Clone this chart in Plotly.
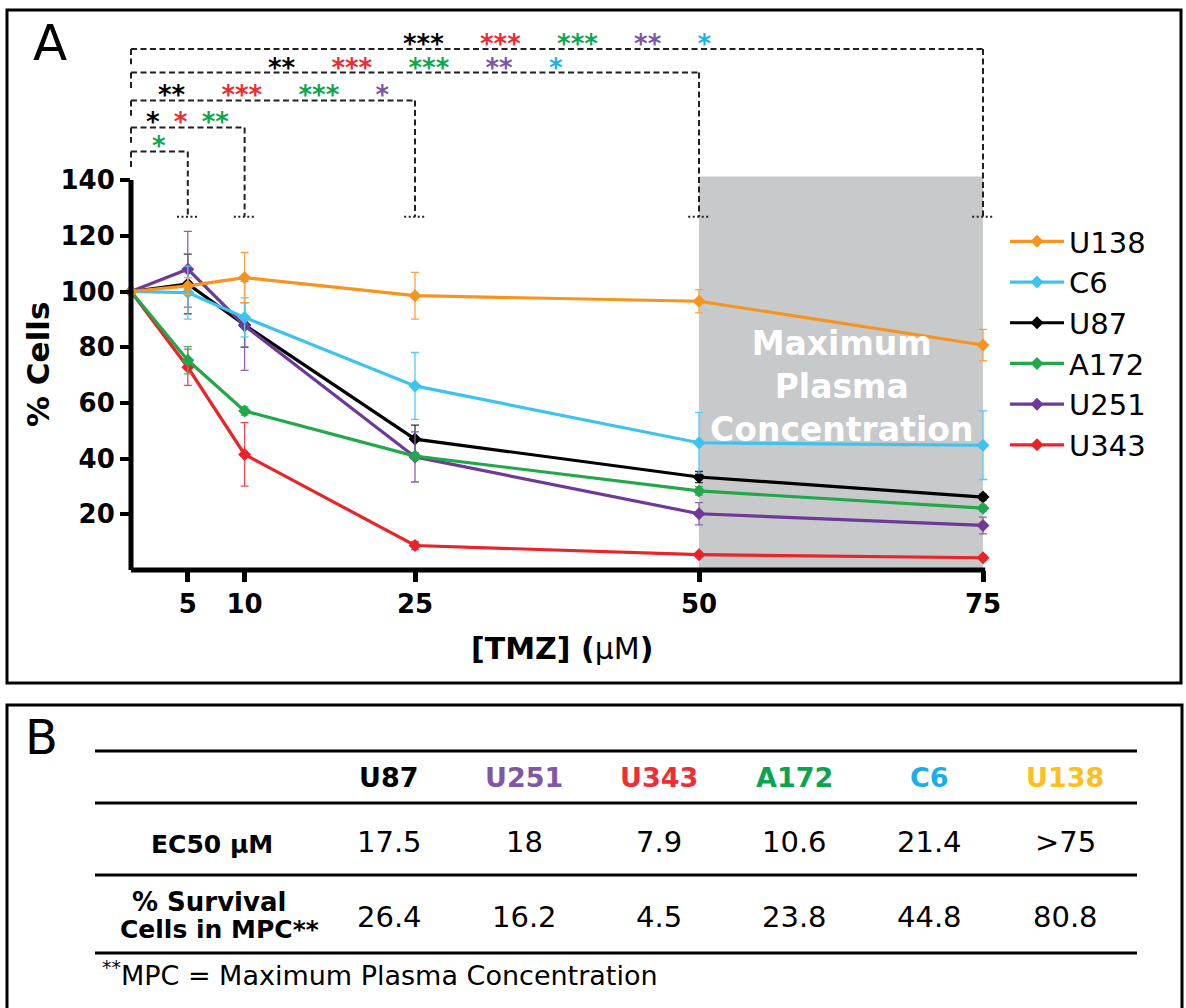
import plotly.graph_objects as go

W, H = 1186, 1008

# ---------------- data ----------------
conc = [0, 5, 10, 25, 50, 75]
x_ticks = [5, 10, 25, 50, 75]
y_ticks = [20, 40, 60, 80, 100, 120, 140]

series_names = ["U138", "C6", "U87", "A172", "U251", "U343"]
u138 = [100, 102.0, 105.0, 98.5, 96.5, 80.8]
u138_err = [0, 3.0, 9.0, 8.4, 4.2, 5.6]
c6 = [100, 99.6, 90.7, 66.1, 45.7, 44.8]
c6_err = [0, 9.5, 7.0, 12.0, 10.9, 12.3]
u87 = [100, 102.7, 88.0, 47.0, 33.4, 26.2]
u87_err = [0, 10.7, 8.0, 5.0, 2.0, 1.0]
a172 = [100, 75.3, 57.1, 40.9, 28.4, 22.2]
a172_err = [0, 4.9, 1.5, 1.0, 1.5, 1.0]
u251 = [100, 108.0, 87.7, 40.6, 20.2, 16.0]
u251_err = [0, 13.6, 16.0, 9.0, 4.0, 3.0]
u343 = [100, 72.8, 41.5, 8.8, 5.5, 4.4]
u343_err = [0, 6.5, 11.4, 1.5, 0.8, 0.8]

# significance vs control (0 uM), per comparison concentration
cmp_conc = [5, 10, 25, 50, 75]
stars_5 = {"A172": "*"}
stars_10 = {"U87": "*", "U343": "*", "A172": "**"}
stars_25 = {"U87": "**", "U343": "***", "A172": "***", "U251": "*"}
stars_50 = {"U87": "**", "U343": "***", "A172": "***", "U251": "**", "C6": "*"}
stars_75 = {"U87": "***", "U343": "***", "A172": "***", "U251": "**", "C6": "*"}
cmp_stars = [stars_5, stars_10, stars_25, stars_50, stars_75]
star_order = ["U87", "U343", "A172", "U251", "C6"]

# table (panel B)
table_cols = ["U87", "U251", "U343", "A172", "C6", "U138"]
ec50 = ["17.5", "18", "7.9", "10.6", "21.4", ">75"]
survival_mpc = ["26.4", "16.2", "4.5", "23.8", "44.8", "80.8"]

mpc_range = [50, 75]

# ---------------- styles ----------------
FONT = "DejaVu Sans"
line_col = {"U138": "#F7941D", "C6": "#3CC3F0", "U87": "#000000",
            "A172": "#22A84A", "U251": "#6E3A96", "U343": "#E8232A"}
err_col = {"U138": "#F8A540", "C6": "#55CBF2", "U87": "#333333",
           "A172": "#3FB466", "U251": "#8A62AE", "U343": "#EE4A50"}
star_col = {"U87": "#000000", "U343": "#EE2A33", "A172": "#0FA650",
            "U251": "#7D55A5", "C6": "#1AB3EA"}
head_col = {"U87": "#000000", "U251": "#7E57A5", "U343": "#EE2D36",
            "A172": "#0AA450", "C6": "#1BAEE8", "U138": "#FCBF1E"}

vals = {"U138": (u138, u138_err), "C6": (c6, c6_err), "U87": (u87, u87_err),
        "A172": (a172, a172_err), "U251": (u251, u251_err), "U343": (u343, u343_err)}

draw_order = ["U343", "U87", "U251", "A172", "C6", "U138"]

fig = go.Figure()
for name in draw_order:
    y, e = vals[name]
    fig.add_trace(go.Scatter(
        x=conc, y=y, name=name, mode="lines+markers",
        line=dict(color=line_col[name], width=3.2),
        marker=dict(symbol="diamond", size=10, color=line_col[name]),
        error_y=dict(type="data", array=e, visible=True, color=err_col[name],
                     thickness=1.3, width=4),
        cliponaxis=False,
        legendrank=series_names.index(name) + 1,
    ))

# px <-> paper helpers (margins are zero, so paper == figure pixels)
def px(xp):
    return xp / W

def py(yp):
    return 1 - yp / H

X0PX, X_SCALE = 131.0, 11.36
Y0PX, Y_SCALE = 570.0, 2.785
x_range = [0, 77]
y_range = [0, 195]
x_dom = [px(X0PX), px(X0PX + x_range[1] * X_SCALE)]
y_dom = [py(Y0PX), py(Y0PX - y_range[1] * Y_SCALE)]

fig.update_xaxes(
    range=x_range, domain=x_dom,
    showgrid=False, zeroline=False, showline=False,
    tickmode="array", tickvals=x_ticks, ticktext=[str(v) for v in x_ticks],
    ticks="outside", ticklen=11, tickwidth=5, tickcolor="black",
    tickfont=dict(family=FONT, size=26, color="black", weight="bold"),
)
fig.update_yaxes(
    range=y_range, domain=y_dom,
    showgrid=False, zeroline=False, showline=False,
    tickmode="array", tickvals=y_ticks, ticktext=[str(v) for v in y_ticks],
    ticks="outside", ticklen=10, tickwidth=4, tickcolor="black",
    tickfont=dict(family=FONT, size=26, color="black", weight="bold"),
)

shapes = []
# MPC shaded region
shapes.append(dict(type="rect", xref="x", yref="y", x0=mpc_range[0], x1=mpc_range[1],
                   y0=0, y1=141.3, fillcolor="#C8C9CB", line=dict(width=0), layer="below"))
# axis lines (one paper reference each so they are not clipped at the plot edge)
shapes.append(dict(type="line", xref="x", yref="paper", x0=-0.2, x1=75.2,
                   y0=y_dom[0], y1=y_dom[0], line=dict(color="black", width=5), layer="above"))
shapes.append(dict(type="line", xref="paper", yref="y", x0=x_dom[0], x1=x_dom[0],
                   y0=-0.9, y1=140, line=dict(color="black", width=5), layer="above"))

# significance brackets
levels = [150.3, 158.9, 168.6, 178.6, 187.1]
cap_y = 126.8
dash = "6px,3.5px"
bcol = "#231F20"
for i, c in enumerate(cmp_conc):
    lv = levels[i]
    shapes.append(dict(type="line", xref="x", yref="y", x0=0, x1=c, y0=lv, y1=lv,
                       line=dict(color=bcol, width=2, dash=dash)))
    shapes.append(dict(type="line", xref="x", yref="y", x0=c, x1=c, y0=lv, y1=cap_y,
                       line=dict(color=bcol, width=2, dash=dash)))
    shapes.append(dict(type="line", xref="x", yref="y", x0=c - 0.95, x1=c + 0.95,
                       y0=cap_y, y1=cap_y, line=dict(color=bcol, width=2, dash="2px,2.5px")))
    drop = 143.5 if i == 0 else lv - 5.5
    shapes.append(dict(type="line", xref="paper", yref="y", x0=x_dom[0], x1=x_dom[0],
                       y0=lv, y1=drop, line=dict(color=bcol, width=2, dash=dash)))

annotations = []
for i, c in enumerate(cmp_conc):
    groups = [f"<span style='color:{star_col[k]}'>{cmp_stars[i][k]}</span>"
              for k in star_order if k in cmp_stars[i]]
    gap = "\u00a0\u2009" if len(groups) <= 3 else "\u00a0" * 4
    annotations.append(dict(x=c / 2, y=levels[i], xref="x", yref="y",
                            text=gap.join(groups), showarrow=False,
                            xanchor="center", yanchor="bottom", yshift=-12,
                            font=dict(family=FONT, size=26, weight="bold")))

# MPC label
annotations.append(dict(x=sum(mpc_range) / 2, y=66.0, xref="x", yref="y",
                        text="Maximum<br>Plasma<br>Concentration", showarrow=False,
                        font=dict(family=FONT, size=33, color="white", weight="bold"),
                        xanchor="center", yanchor="middle"))

# axis titles
annotations.append(dict(x=px(38), y=py(365), xref="paper", yref="paper",
                        text="<b>% Cells</b>", textangle=-90, showarrow=False,
                        font=dict(family=FONT, size=31, color="black"),
                        xanchor="center", yanchor="middle"))
annotations.append(dict(x=px(562), y=py(648), xref="paper", yref="paper",
                        text="<b>[TMZ] (</b>μM<b>)</b>", showarrow=False,
                        font=dict(family=FONT, size=30, color="black"),
                        xanchor="center", yanchor="middle"))

# panel letters
annotations.append(dict(x=px(50), y=py(43), xref="paper", yref="paper", text="A",
                        showarrow=False, font=dict(family=FONT, size=50, color="black"),
                        xanchor="center", yanchor="middle"))
annotations.append(dict(x=px(41), y=py(737), xref="paper", yref="paper", text="B",
                        showarrow=False, font=dict(family=FONT, size=48, color="black"),
                        xanchor="center", yanchor="middle"))

# panel borders
shapes.append(dict(type="rect", xref="paper", yref="paper", x0=px(7), x1=px(1181),
                   y0=py(683), y1=py(10), line=dict(color="black", width=3)))
shapes.append(dict(type="rect", xref="paper", yref="paper", x0=px(7), x1=px(1182),
                   y0=py(1020), y1=py(705), line=dict(color="black", width=3)))

# table rules
for yy in [751, 803, 875, 953]:
    shapes.append(dict(type="line", xref="paper", yref="paper", x0=px(95), x1=px(1137),
                       y0=py(yy), y1=py(yy), line=dict(color="black", width=3)))

col_x0, col_step = 389, 135.2
for j, name in enumerate(table_cols):
    cx = px(col_x0 + j * col_step)
    annotations.append(dict(x=cx, y=py(777), xref="paper", yref="paper",
                            text=f"<b>{name}</b>", showarrow=False,
                            font=dict(family=FONT, size=27, color=head_col[name]),
                            xanchor="center", yanchor="middle"))
    annotations.append(dict(x=cx, y=py(842), xref="paper", yref="paper",
                            text=ec50[j], showarrow=False,
                            font=dict(family=FONT, size=29, color="black"),
                            xanchor="center", yanchor="middle"))
    annotations.append(dict(x=cx, y=py(917), xref="paper", yref="paper",
                            text=survival_mpc[j], showarrow=False,
                            font=dict(family=FONT, size=29, color="black"),
                            xanchor="center", yanchor="middle"))

annotations.append(dict(x=px(212), y=py(844), xref="paper", yref="paper",
                        text="<b>EC50 μM</b>", showarrow=False,
                        font=dict(family=FONT, size=25, color="black"),
                        xanchor="center", yanchor="middle"))
annotations.append(dict(x=px(209), y=py(902), xref="paper", yref="paper",
                        text="<b>% Survival</b>", showarrow=False,
                        font=dict(family=FONT, size=26, color="black"),
                        xanchor="center", yanchor="middle"))
annotations.append(dict(x=px(219), y=py(929), xref="paper", yref="paper",
                        text="<b>Cells in MPC**</b>", showarrow=False,
                        font=dict(family=FONT, size=25, color="black"),
                        xanchor="center", yanchor="middle"))
annotations.append(dict(x=px(100), y=py(973), xref="paper", yref="paper",
                        text="<sup>**</sup>MPC = Maximum Plasma Concentration",
                        showarrow=False, font=dict(family=FONT, size=27, color="black"),
                        xanchor="left", yanchor="middle"))

fig.update_layout(
    width=W, height=H,
    margin=dict(l=0, r=0, t=0, b=0, autoexpand=False),
    paper_bgcolor="white", plot_bgcolor="white",
    shapes=shapes, annotations=annotations,
    showlegend=True,
    legend=dict(x=px(1005), y=py(216), xanchor="left", yanchor="top",
                font=dict(family=FONT, size=29, color="black"),
                bgcolor="rgba(0,0,0,0)", itemwidth=54, tracegroupgap=0),
    font=dict(family=FONT),
)

fig.write_html("out.html")
